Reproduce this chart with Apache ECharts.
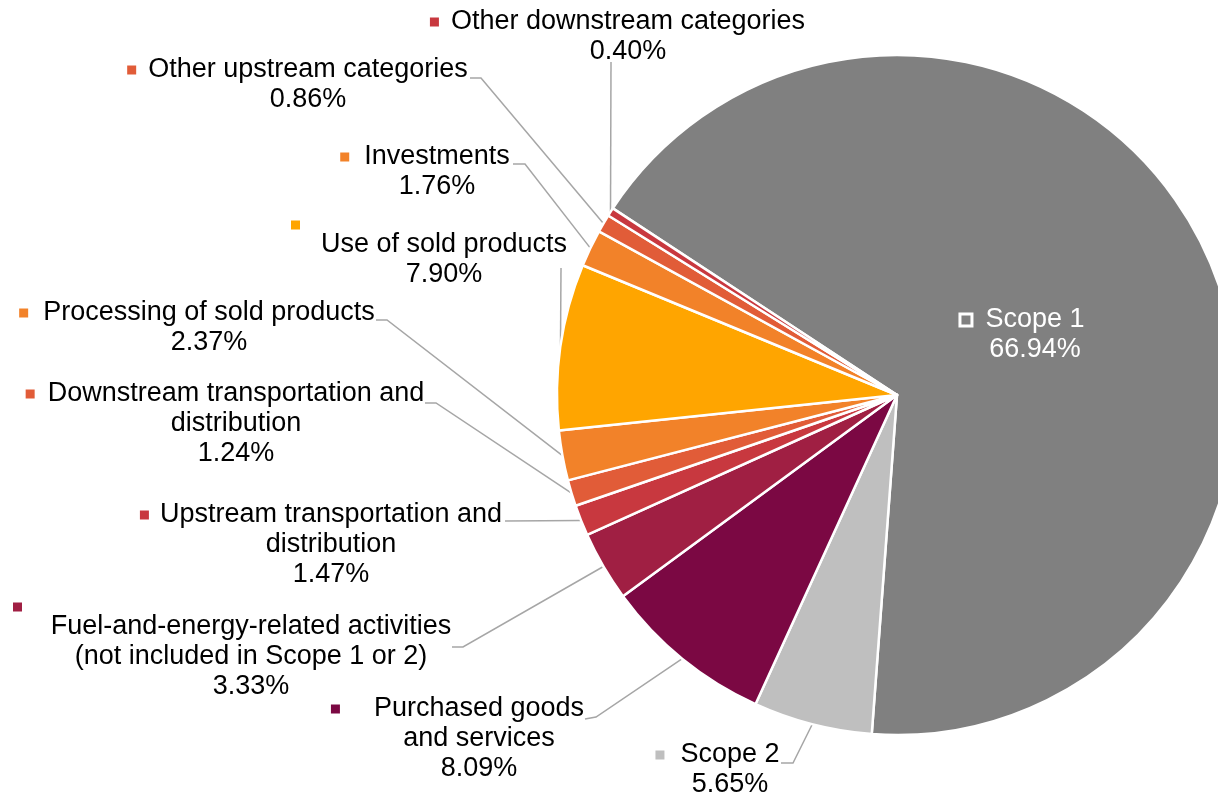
<!DOCTYPE html>
<html><head><meta charset="utf-8">
<script src="https://cdn.jsdelivr.net/npm/echarts@6/dist/echarts.min.js"></script>
<style>html,body{margin:0;padding:0;background:#fff}#c{width:1218px;height:800px}</style>
</head><body><div id="c"></div>
<script>
// ---- data ----
const categories = [
  'Scope 1',
  'Scope 2',
  'Purchased goods\nand services',
  'Fuel-and-energy-related activities\n(not included in Scope 1 or 2)',
  'Upstream transportation and\ndistribution',
  'Downstream transportation and\ndistribution',
  'Processing of sold products',
  'Use of sold products',
  'Investments',
  'Other upstream categories',
  'Other downstream categories'
];
const shares = [66.94, 5.65, 8.09, 3.33, 1.47, 1.24, 2.37, 7.90, 1.76, 0.86, 0.40];

// ---- styles ----
const colors = ['#808080','#BFBFBF','#7B0843','#A01F43','#C8383F','#E15C38','#F28229','#FFA500','#F28229','#E15C38','#C8383F'];

// label layout (text centre x, first-line centre y, marker gap, leader points near label)
const layoutSpec = [
  {cx:1035, y:320, gap:15, inside:true},
  {cx:730, y:755, gap:16, lead:[[781,763],[793,763]]},
  {cx:479, y:709, gap:34, lead:[[585,719],[596,717]]},
  {cx:251, y:627, own:13, lead:[[452,647],[463,647]]},
  {cx:331, y:515, gap:11, lead:[[505,521]]},
  {cx:236, y:394, gap:13, lead:[[425,403],[436,403]]},
  {cx:209, y:313, gap:15, lead:[[376,320],[387,320]]},
  {cx:444, y:245, own:291, lead:[[561,268]]},
  {cx:437, y:157, gap:15, lead:[[513,164],[525,164]]},
  {cx:308, y:70, gap:12, lead:[[470,78],[481,78]]},
  {cx:628, y:22, gap:12, lead:[[611,62]]}
];

const CENTER = [897, 395], RADIUS = 340, START = 146.7;

function edgePoint(i) {
  const total = shares.reduce((a, b) => a + b, 0);
  let acc = 0;
  for (let k = 0; k < i; k++) acc += shares[k];
  const mid = START - (acc + shares[i] / 2) / total * 360;
  const r = mid * Math.PI / 180;
  return [CENTER[0] + RADIUS * Math.cos(r), CENTER[1] - RADIUS * Math.sin(r)];
}

const data = categories.map((name, i) => {
  const s = layoutSpec[i];
  const lines = name.split('\n');
  const pct = shares[i].toFixed(2) + '%';
  let text, rich;
  if (s.own !== undefined) {
    const W = 2 * (s.cx - s.own);
    text = '{m|}{s|}\n' + lines.join('\n') + '\n' + pct;
    rich = {
      m: {width: 9, height: 9, backgroundColor: colors[i], lineHeight: 10},
      s: {width: W - 9, height: 9, lineHeight: 10}
    };
  } else {
    text = '{m|}{g|}' + lines[0] + '{r|}' + (lines.length > 1 ? '\n' + lines.slice(1).join('\n') : '') + '\n' + pct;
    const inside = !!s.inside;
    rich = {
      m: inside ? {width: 9, height: 9, backgroundColor: '#808080', borderColor: '#fff', borderWidth: 3}
                : {width: 9, height: 9, backgroundColor: colors[i]},
      g: {width: s.gap},
      r: {width: s.gap + 9}
    };
  }
  const item = {
    name: name,
    value: shares[i],
    itemStyle: {color: colors[i]},
    label: {formatter: text, rich: rich, color: s.inside ? '#fff' : '#000'}
  };
  if (s.inside) {
    item.label.position = 'inside';
    item.labelLine = {show: false};
  }
  return item;
});

const chart = echarts.init(document.getElementById('c'), null, {renderer: 'canvas'});
chart.setOption({
  animation: false,
  backgroundColor: '#fff',
  series: [{
    type: 'pie',
    center: CENTER,
    radius: RADIUS,
    startAngle: START,
    clockwise: true,
    avoidLabelOverlap: false,
    itemStyle: {borderColor: '#fff', borderWidth: 2.5},
    label: {
      show: true,
      position: 'outside',
      fontFamily: 'Liberation Sans, Arial, sans-serif',
      fontSize: 27,
      lineHeight: 30,
      align: 'center',
      color: '#000'
    },
    labelLine: {show: true, length: 10, length2: 10, smooth: false,
      lineStyle: {color: '#A6A6A6', width: 1.5}},
    labelLayout: function (p) {
      const i = p.dataIndex;
      const s = layoutSpec[i];
      const top = s.own !== undefined ? s.y - 25 : s.y - 15;
      const res = {x: s.cx, y: top, align: 'center', verticalAlign: 'top'};
      if (!s.inside) {
        res.labelLinePoints = s.lead.concat([edgePoint(i)]);
      }
      return res;
    },
    data: data
  }]
});
</script>
</body></html>
